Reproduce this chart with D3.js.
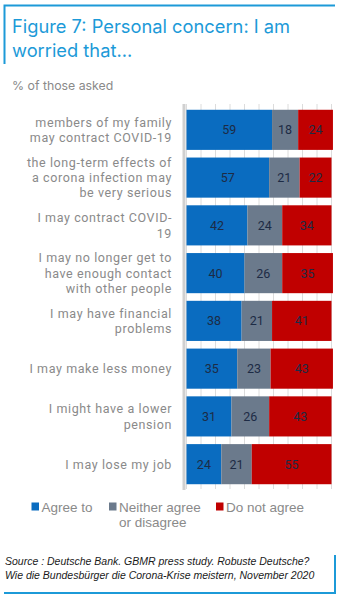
<!DOCTYPE html>
<html>
<head>
<meta charset="utf-8">
<script src="https://cdn.jsdelivr.net/npm/d3@7"></script>
<style>
  body { margin: 0; background: #fff; }
  svg { display: block; }
</style>
</head>
<body>
<svg id="chart" width="344" height="600"></svg>
<script>
var categories = [
  ['members of my family', 'may contract COVID-19'],
  ['the long-term effects of', 'a corona infection may', 'be very serious'],
  ['I may contract COVID-', '19'],
  ['I may no longer get to', 'have enough contact', 'with other people'],
  ['I may have financial', 'problems'],
  ['I may make less money'],
  ['I might have a lower', 'pension'],
  ['I may lose my job']
];
var agree    = [59, 57, 42, 40, 38, 35, 31, 24];
var neither  = [18, 21, 24, 26, 21, 23, 26, 21];
var disagree = [24, 22, 34, 35, 41, 43, 43, 55];
var seriesNames = ['Agree to', 'Neither agree|or disagree', 'Do not agree'];
var seriesColors = ['#0a6cc0', '#6b7a8c', '#c00000'];
var xTicks = d3.range(0, 101, 10);

var svg = d3.select('#chart');

/* frame lines, title and subtitle */
svg.append('path')
  .attr('d', 'M4.5,64 V5.5 H335')
  .attr('fill', 'none').attr('stroke', '#1c9ad8').attr('stroke-width', 2);
svg.append('path')
  .attr('d', 'M4,593 H335 V555')
  .attr('fill', 'none').attr('stroke', '#1c9ad8').attr('stroke-width', 2);

svg.selectAll('text.title')
  .data(['Figure 7: Personal concern: I am', 'worried that...'])
  .enter().append('text')
  .attr('class', 'title')
  .attr('x', 12)
  .attr('y', function(d, i) { return 33 + i * 24; })
  .style('font-family', 'Inter, "Open Sans", sans-serif')
  .style('font-size', '18.3px')
  .style('fill', '#1c9ad8')
  .text(function(d) { return d; });

svg.append('text')
  .attr('x', 12).attr('y', 90)
  .style('font-family', 'Inter, sans-serif')
  .style('font-size', '12.3px')
  .style('fill', '#8a8a8a')
  .text('% of those asked');

/* scales */
var x = d3.scaleLinear().domain([0, 100]).range([186.5, 331.5]);
var y = d3.scaleBand().domain(d3.range(categories.length)).range([105, 489]).paddingInner(0.16).paddingOuter(0.1);

var rows = categories.map(function(c, i) {
  return { i: i, values: [agree[i], neither[i], disagree[i]] };
});
var stack = d3.stack().keys([0, 1, 2]).value(function(d, k) { return d.values[k]; });
var layers = stack(rows);

/* vertical gridlines */
svg.append('g')
  .selectAll('line')
  .data(xTicks)
  .enter().append('line')
  .attr('x1', function(d) { return x(d); })
  .attr('x2', function(d) { return x(d); })
  .attr('y1', 104).attr('y2', 489)
  .attr('stroke', '#dcdcdc').attr('stroke-width', 1);

/* bars */
var layer = svg.append('g').selectAll('g')
  .data(layers)
  .enter().append('g')
  .attr('fill', function(d, k) { return seriesColors[k]; });

layer.selectAll('rect')
  .data(function(d) { return d; })
  .enter().append('rect')
  .attr('x', function(d) { return x(d[0]); })
  .attr('width', function(d) { return x(d[1]) - x(d[0]); })
  .attr('y', function(d) { return y(d.data.i); })
  .attr('height', y.bandwidth());

layer.selectAll('text')
  .data(function(d) { return d; })
  .enter().append('text')
  .attr('x', function(d) { return (x(d[0]) + x(d[1])) / 2; })
  .attr('y', function(d) { return y(d.data.i) + y.bandwidth() / 2 + 4.5; })
  .attr('text-anchor', 'middle')
  .style('font-family', 'Roboto, sans-serif')
  .style('font-size', '12.5px')
  .style('fill', '#1d2b45')
  .text(function(d) { return d[1] - d[0]; });

/* y axis line */
svg.append('line')
  .attr('x1', 184).attr('x2', 184)
  .attr('y1', 104).attr('y2', 490)
  .attr('stroke', '#d0d0d0').attr('stroke-width', 3);

/* category labels */
var lineH = 15.3;
svg.append('g').selectAll('text')
  .data(categories)
  .enter().append('text')
  .attr('text-anchor', 'end')
  .style('font-family', 'Roboto, sans-serif')
  .style('font-size', '12.5px')
  .style('letter-spacing', '0.6px')
  .style('fill', '#8a8a8a')
  .each(function(d, i) {
    var cy = y(i) + y.bandwidth() / 2;
    var top = cy - (d.length - 1) * lineH / 2 + 4.5;
    d3.select(this).selectAll('tspan')
      .data(d)
      .enter().append('tspan')
      .attr('x', 172)
      .attr('y', function(t, j) { return top + j * lineH; })
      .text(function(t) { return t; });
  });

/* legend */
var legendX = [31.5, 109, 216];
var legend = svg.append('g').selectAll('g')
  .data(seriesNames)
  .enter().append('g')
  .attr('transform', function(d, k) { return 'translate(' + legendX[k] + ',502.5)'; });
legend.append('rect')
  .attr('width', 7.5).attr('height', 8)
  .attr('fill', function(d, k) { return seriesColors[k]; });
legend.append('text')
  .style('font-family', '"Liberation Sans", Arial, sans-serif')
  .style('font-size', '13.5px')
  .style('fill', '#8a8a8a')
  .each(function(d) {
    d3.select(this).selectAll('tspan')
      .data(d.split('|'))
      .enter().append('tspan')
      .attr('x', 10)
      .attr('y', function(t, j) { return 9 + j * 15.5; })
      .text(function(t) { return t; });
  });

/* source note */
svg.selectAll('text.source')
  .data(['Source : Deutsche Bank. GBMR press study. Robuste Deutsche?',
         'Wie die Bundesbürger die Corona-Krise meistern, November 2020'])
  .enter().append('text')
  .attr('class', 'source')
  .attr('x', 5)
  .attr('y', function(d, i) { return 565 + i * 13.5; })
  .style('font-family', '"Liberation Sans", Arial, sans-serif')
  .style('font-size', '10.5px')
  .style('font-style', 'italic')
  .style('fill', '#1a1a1a')
  .text(function(d) { return d; });
</script>
</body>
</html>
